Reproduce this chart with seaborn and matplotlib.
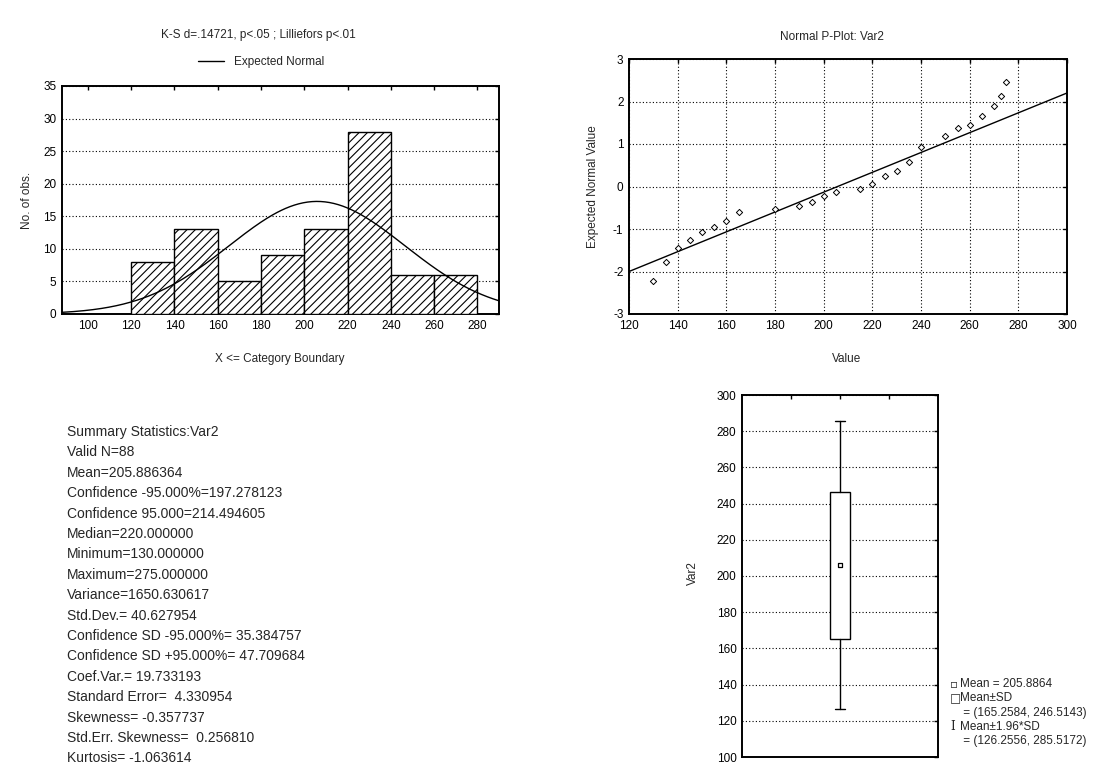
import numpy as np
import matplotlib
matplotlib.use("Agg")
import matplotlib.pyplot as plt
import seaborn as sns
from matplotlib.lines import Line2D

# === DANE ===
bin_edges = [120, 140, 160, 180, 200, 220, 240, 260, 280]
bin_counts = [8, 13, 5, 9, 13, 28, 6, 6]

n_obs = 88
mean_val = 205.886364
sd_val = 40.627954

pp_values = [130, 135, 140, 145, 150, 155, 160, 165, 180, 190, 195, 200, 205,
             215, 220, 225, 230, 235, 240, 250, 255, 260, 265, 270, 273, 275]
pp_expected = [-2.22, -1.78, -1.45, -1.27, -1.08, -0.95, -0.80, -0.61, -0.53,
               -0.47, -0.36, -0.22, -0.12, -0.05, 0.06, 0.24, 0.37, 0.58, 0.93,
               1.18, 1.37, 1.45, 1.65, 1.89, 2.12, 2.45]
pp_line_x = [120, 300]
pp_line_y = [-2.0, 2.2]

box_mean = 205.8864
box_sd_lo, box_sd_hi = 165.2584, 246.5143
box_ci_lo, box_ci_hi = 126.2556, 285.5172

summary_lines = [
    "Summary Statistics:Var2",
    "Valid N=88",
    "Mean=205.886364",
    "Confidence -95.000%=197.278123",
    "Confidence 95.000=214.494605",
    "Median=220.000000",
    "Minimum=130.000000",
    "Maximum=275.000000",
    "Variance=1650.630617",
    "Std.Dev.= 40.627954",
    "Confidence SD -95.000%= 35.384757",
    "Confidence SD +95.000%= 47.709684",
    "Coef.Var.= 19.733193",
    "Standard Error=  4.330954",
    "Skewness= -0.357737",
    "Std.Err. Skewness=  0.256810",
    "Kurtosis= -1.063614",
]

legend_lines = [
    ("\u25ab", "Mean = 205.8864"),
    ("\u25a1", "Mean\u00b1SD"),
    ("", " = (165.2584, 246.5143)"),
    ("I", "Mean\u00b11.96*SD"),
    ("", " = (126.2556, 285.5172)"),
]

# === STYL ===
sns.set_style("white")
plt.rcParams['font.family'] = ['Liberation Sans Narrow', 'Liberation Sans', 'DejaVu Sans']
plt.rcParams['hatch.linewidth'] = 0.8
plt.rcParams['axes.linewidth'] = 1.4
plt.rcParams['axes.unicode_minus'] = False
TICK_FS = 8.5

W, H = 1113, 764
fig = plt.figure(figsize=(W / 100, H / 100), dpi=100)


def px_axes(left, top, right, bottom):
    return fig.add_axes([left / W, 1 - bottom / H, (right - left) / W, (bottom - top) / H])


def frame_ticks(ax):
    ax.tick_params(axis='both', direction='in', length=3, width=1, top=True, right=True,
                   labelsize=TICK_FS, pad=4, colors='black')
    for s in ax.spines.values():
        s.set_color('black')


# === HISTOGRAM ===
ax1 = px_axes(62, 86, 499, 314)
mids = [(a + b) / 2 for a, b in zip(bin_edges[:-1], bin_edges[1:])]
sns.histplot(x=mids, weights=bin_counts, bins=bin_edges, ax=ax1, color='white',
             edgecolor='black', linewidth=1.0, hatch='////', alpha=1, zorder=3)
xs = np.linspace(88, 290, 300)
bw = bin_edges[1] - bin_edges[0]
ys = n_obs * bw / (sd_val * np.sqrt(2 * np.pi)) * np.exp(-0.5 * ((xs - mean_val) / sd_val) ** 2)
sns.lineplot(x=xs, y=ys, ax=ax1, color='black', linewidth=1.0, zorder=4)
ax1.set_xlim(88, 290)
ax1.set_ylim(0, 35)
ax1.set_xticks(range(100, 281, 20))
ax1.set_yticks(range(0, 36, 5))
ax1.yaxis.grid(True, linestyle=(0, (1, 2)), color='black', linewidth=0.8)
ax1.set_axisbelow(True)
frame_ticks(ax1)
ax1.set_xlabel("")
ax1.set_ylabel("")
ax1.legend(handles=[Line2D([], [], color='black', linewidth=1.0)], labels=["Expected Normal"],
           loc='center', bbox_to_anchor=((261 - 62) / 437, 1 + 24 / 228), frameon=False,
           fontsize=TICK_FS, handlelength=2.2, handletextpad=0.8)
fig.text(258 / W, 1 - 35 / H, "K-S d=.14721, p<.05 ; Lilliefors p<.01", ha='center', va='center',
         fontsize=TICK_FS)
fig.text(280 / W, 1 - 359 / H, "X <= Category Boundary", ha='center', va='center', fontsize=TICK_FS)
fig.text(27 / W, 1 - 200 / H, "No. of obs.", ha='center', va='center', rotation=90, fontsize=TICK_FS)

# === NORMAL P-PLOT ===
ax2 = px_axes(629, 59, 1067, 314)
sns.lineplot(x=pp_line_x, y=pp_line_y, ax=ax2, color='black', linewidth=1.0, zorder=3)
sns.scatterplot(x=pp_values, y=pp_expected, ax=ax2, marker='D', s=10, facecolor='white',
                edgecolor='black', linewidth=0.7, zorder=4)
ax2.set_xlim(120, 300)
ax2.set_ylim(-3, 3)
ax2.set_xticks(range(120, 301, 20))
ax2.set_yticks(range(-3, 4))
ax2.grid(True, linestyle=(0, (1, 2)), color='black', linewidth=0.8)
ax2.set_axisbelow(True)
frame_ticks(ax2)
ax2.set_xlabel("")
ax2.set_ylabel("")
fig.text(832 / W, 1 - 37 / H, "Normal P-Plot: Var2", ha='center', va='center', fontsize=TICK_FS)
fig.text(847 / W, 1 - 359 / H, "Value", ha='center', va='center', fontsize=TICK_FS)
fig.text(593 / W, 1 - 187 / H, "Expected Normal Value", ha='center', va='center', rotation=90,
         fontsize=TICK_FS)

# === BOX PLOT ===
ax3 = px_axes(742, 395, 938, 757)
stats = [dict(med=box_mean, q1=box_sd_lo, q3=box_sd_hi, whislo=box_ci_lo, whishi=box_ci_hi,
              fliers=[])]
ax3.bxp(stats, positions=[2], widths=0.4, showfliers=False, patch_artist=True,
        boxprops=dict(facecolor='white', edgecolor='black', linewidth=1.0),
        whiskerprops=dict(color='black', linewidth=1.0),
        capprops=dict(color='black', linewidth=1.0),
        medianprops=dict(linestyle='none'), capwidths=0.2, zorder=3)
sns.scatterplot(x=[2], y=[box_mean], ax=ax3, marker='s', s=12, facecolor='white',
                edgecolor='black', linewidth=0.9, zorder=5)
ax3.set_xlim(0, 4)
ax3.set_ylim(100, 300)
ax3.set_xticks([1, 2, 3])
ax3.set_xticklabels([])
ax3.set_yticks(range(100, 301, 20))
ax3.yaxis.grid(True, linestyle=(0, (1, 2)), color='black', linewidth=0.8)
ax3.set_axisbelow(True)
frame_ticks(ax3)
ax3.set_xlabel("")
ax3.set_ylabel("")
fig.text(693 / W, 1 - 573 / H, "Var2", ha='center', va='center', rotation=90, fontsize=TICK_FS)

for i, (sym, txt) in enumerate(legend_lines):
    y = 1 - (684 + i * 14.3) / H
    if sym:
        fam = ['DejaVu Serif'] if sym == "I" else ['DejaVu Sans']
        fig.text(950 / W, y, sym, ha='left', va='center', fontsize=TICK_FS, family=fam)
    fig.text(960 / W, y, txt, ha='left', va='center', fontsize=TICK_FS)

# === STATYSTYKI ===
for i, line in enumerate(summary_lines):
    fig.text(67 / W, 1 - (432 + i * 20.4) / H, line, ha='left', va='center', fontsize=10)

fig.savefig("out.png", dpi=100, facecolor='white')
